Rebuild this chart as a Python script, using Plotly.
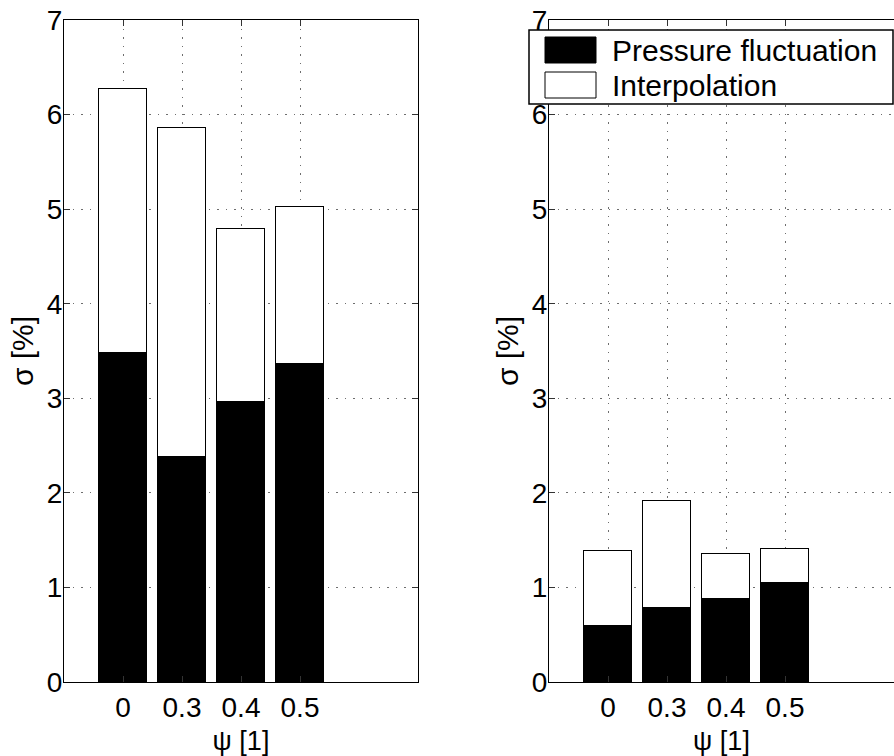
import plotly.graph_objects as go

# Bar categories (psi values) and their positions on the axis
psi_labels = ["0", "0.3", "0.4", "0.5"]
positions = [1, 2, 3, 4]

# Left panel: standard deviation components [%]
left_pressure = [3.48, 2.38, 2.96, 3.36]
left_interp = [2.79, 3.48, 1.83, 1.66]

# Right panel: standard deviation components [%]
right_pressure = [0.59, 0.78, 0.88, 1.05]
right_interp = [0.80, 1.13, 0.47, 0.36]

y_ticks = [0, 1, 2, 3, 4, 5, 6, 7]

W, H = 894, 756
FONT = "Liberation Sans, Arial, sans-serif"
FS = 28

fig = go.Figure()

def add_pair(pressure, interp, xa, ya):
    fig.add_trace(go.Bar(
        x=positions, y=pressure, width=0.8, name="Pressure fluctuation",
        marker=dict(color="black", line=dict(color="black", width=1)),
        xaxis=xa, yaxis=ya, showlegend=False))
    fig.add_trace(go.Bar(
        x=positions, y=interp, width=0.8, name="Interpolation",
        marker=dict(color="white", line=dict(color="black", width=1)),
        xaxis=xa, yaxis=ya, showlegend=False))

add_pair(left_pressure, left_interp, "x", "y")
add_pair(right_pressure, right_interp, "x2", "y2")

px = lambda v: v / W
py = lambda v: 1 - v / H

grid = dict(showgrid=True, gridcolor="#6e6e6e", griddash="1.5px,7px", gridwidth=1)
xcommon = dict(tickmode="array", tickvals=positions, ticktext=psi_labels,
               ticks="inside", ticklen=6, tickcolor="#333",
               showline=True, linecolor="black", linewidth=1,
               zeroline=False, automargin=False,
               tickfont=dict(size=FS, color="black"),
               title=dict(text="ψ [1]", font=dict(size=27, color="black"), standoff=10),
               **grid)
ycommon = dict(range=[0, 7], tickmode="array", tickvals=y_ticks,
               ticks="inside", ticklen=6, tickcolor="#333",
               showline=True, linecolor="black", linewidth=1,
               zeroline=False, automargin=False, ticklabelstandoff=-5,
               tickfont=dict(size=FS, color="black"),
               title=dict(text="σ [%]", font=dict(size=30, color="black"), standoff=4),
               **grid)

fig.update_layout(
    width=W, height=H,
    margin=dict(l=0, r=0, t=0, b=0),
    paper_bgcolor="white", plot_bgcolor="white",
    font=dict(family=FONT, color="black", size=FS),
    barmode="stack", bargap=0,
    showlegend=False,
    xaxis=dict(domain=[px(64), px(418)], range=[0, 6], mirror="ticks",
               anchor="y", **xcommon),
    yaxis=dict(domain=[py(682), py(20)], mirror="ticks", anchor="x", **ycommon),
    xaxis2=dict(domain=[px(549), 1], range=[0, 345 / 59], mirror="ticks",
                anchor="y2", **xcommon),
    yaxis2=dict(domain=[py(682), py(20)], mirror=False, anchor="x2", **ycommon),
)

# Legend box drawn in the upper part of the right panel
shapes = [
    dict(type="rect", xref="paper", yref="paper", x0=px(529), x1=px(893),
         y0=py(104), y1=py(30), line=dict(color="black", width=1.5),
         fillcolor="white", layer="above"),
    dict(type="rect", xref="paper", yref="paper", x0=px(545), x1=px(596),
         y0=py(63), y1=py(37), line=dict(color="black", width=1),
         fillcolor="black", layer="above"),
    dict(type="rect", xref="paper", yref="paper", x0=px(545), x1=px(596),
         y0=py(98), y1=py(72), line=dict(color="black", width=1),
         fillcolor="white", layer="above"),
]
annotations = [
    dict(text="Pressure fluctuation", xref="paper", yref="paper",
         x=px(610), y=py(51), xanchor="left", yanchor="middle",
         showarrow=False, font=dict(size=30, color="black")),
    dict(text="Interpolation", xref="paper", yref="paper",
         x=px(610), y=py(86), xanchor="left", yanchor="middle",
         showarrow=False, font=dict(size=30, color="black")),
]
fig.update_layout(shapes=shapes, annotations=annotations)

fig.write_html("out.html")
